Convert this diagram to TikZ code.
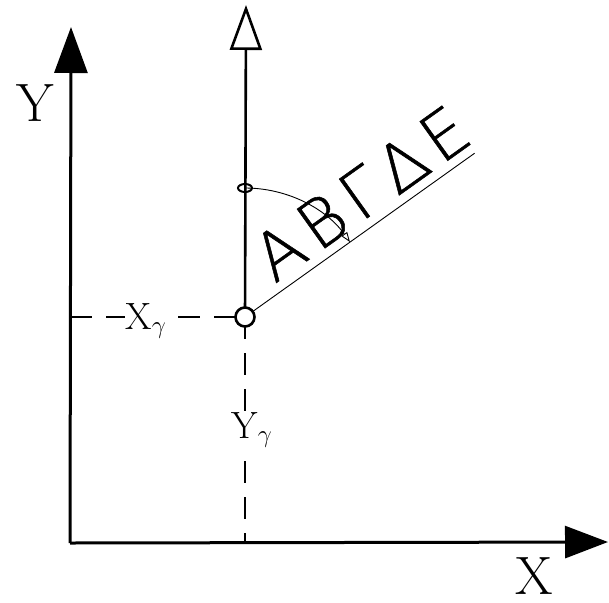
\documentclass[tikz,border=0pt]{standalone}
\usepackage{fontspec}
\usetikzlibrary{arrows.meta,calc,shapes.geometric}
\newfontfamily\greekthin[LetterSpace=13,FakeBold=0.8]{DejaVu Sans ExtraLight}
\begin{document}
\begin{tikzpicture}[x=1pt,y=-1pt,
  axis/.style={line width=3pt},
  dashline/.style={line width=1.3pt, dash pattern=on 22pt off 14pt},
  biglabel/.style={font=\fontsize{54}{54}\selectfont, inner sep=0pt},
  sublabel/.style={font=\fontsize{38}{40}\selectfont, inner sep=1pt, fill=white},
]
\useasboundingbox (0,0) rectangle (609,602);
% coordinates
\coordinate (O) at (70,543);
\coordinate (ytip) at (71,27);
\coordinate (xtip) at (608,542);
\coordinate (c) at (245,317);
\coordinate (vtip) at (246,5);
\coordinate (e) at (245,188);
\coordinate (dend) at ($(c)+(-35.5:282)$);
\coordinate (yl) at (70,317);
\coordinate (xl) at (245,543);
% axes
\draw[axis, -{Triangle[length=46pt,width=33pt]}] (O) -- (ytip);
\draw[axis, -{Triangle[length=43pt,width=32pt]}] (O) -- (xtip);
\node[biglabel] (Ylab) at (35,103) {Y};
\node[biglabel] (Xlab) at (534,576) {X};
% dashed projections
\draw[dashline] (yl) -- (c);
\draw[dashline] (c) -- (xl);
\node[sublabel] (xg) at (146,321) {$\mathrm{X}_\gamma$};
\node[sublabel] (yg) at (252,430) {$\mathrm{Y}_\gamma$};
% vertical direction
\draw[line width=2.6pt, -{Triangle[open,length=45pt,width=32pt,line width=2.6pt]}] (c) -- (vtip);
% diagonal
\draw[line width=0.9pt] (c) -- (dend);
% arc
\draw[line width=0.9pt, -{Triangle[open,length=10pt,width=7pt]}] (e) arc[start angle=-90, end angle=-35.5, radius=129];
\node[draw, ellipse, line width=2pt, minimum width=14pt, minimum height=8pt, inner sep=0pt] (eo) at (e) {};
% origin circle
\node[draw, circle, fill=white, line width=2.6pt, minimum size=19pt, inner sep=0pt] (co) at (c) {};
% text
\node[rotate=35.5, inner sep=0pt, font=\greekthin\fontsize{66}{66}\selectfont] (txt) at (361,193) {ΑΒΓΔΕ};
\end{tikzpicture}
\end{document}
